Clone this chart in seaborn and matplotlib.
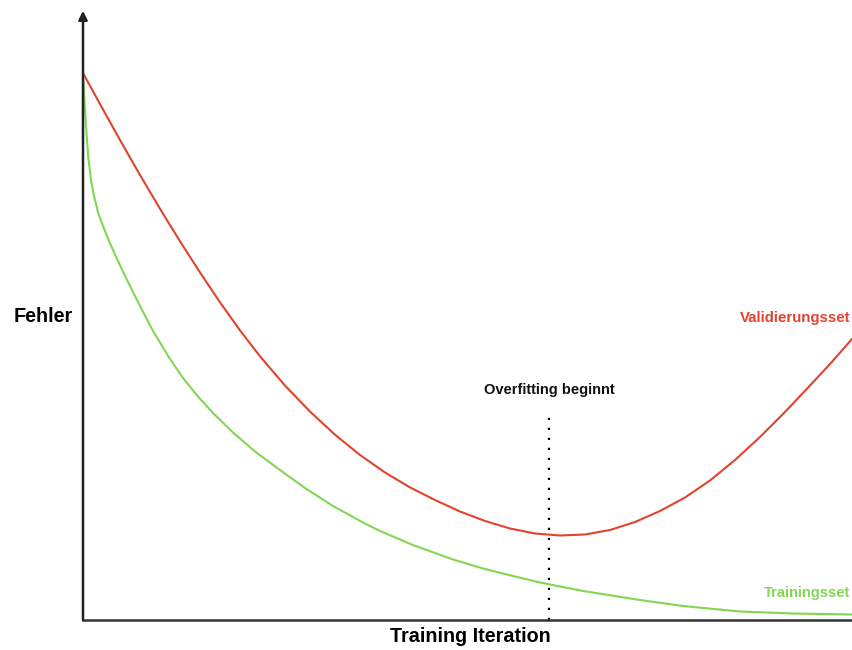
import numpy as np
import pandas as pd
import matplotlib
matplotlib.use('Agg')
import matplotlib.pyplot as plt
import seaborn as sns

sns.set_style('white')
plt.rcParams['font.family'] = ['Liberation Sans', 'DejaVu Sans']

# Kurven (x = Training Iteration, y = Fehler, beliebige Einheiten)
val_x = [0, 17, 37, 57, 77, 97, 117, 137, 157, 177, 202, 227, 252, 277, 302, 327, 352,
         377, 402, 427, 452, 477, 502, 527, 552, 577, 602, 627, 652, 677, 702, 727, 747, 769]
val_y = [547, 515.9, 480, 445, 411.2, 378.7, 347.6, 317.7, 289.6, 263.7, 234.4, 208.4,
         185.3, 165, 147.5, 132.6, 120, 108.5, 99, 91.5, 86.5, 84.5, 85.5, 90, 98, 109,
         122.5, 139.5, 160, 183, 208, 234.5, 256, 281]

train_x = [0, 1, 2, 3.5, 5.3, 8, 11, 15, 20, 26, 34, 45, 57, 70, 87, 100, 115, 130, 150,
           172, 197, 222, 250, 280, 297, 330, 370, 400, 430, 457, 500, 557, 600, 657, 710, 769]
train_y = [547, 527, 510, 487, 463, 440, 424, 408, 394, 379, 361, 338, 314, 289, 261, 242,
           223.5, 207, 187.5, 168.5, 150, 132, 114, 97.5, 89, 75, 60.5, 51.5, 44, 37.5, 29,
           20, 14, 8.5, 6.5, 5.5]

overfit_x = 466
overfit_top = 210
overfit_label_y = 230

red = '#E2432E'
green = '#82D752'

dfVal = pd.DataFrame({'x': val_x, 'y': val_y})
dfTrain = pd.DataFrame({'x': train_x, 'y': train_y})

fig = plt.figure(figsize=(8.52, 6.5), dpi=100)
ax = fig.add_axes([83 / 852, 30 / 650, 769 / 852, 605 / 650])

sns.lineplot(data=dfVal, x='x', y='y', color=red, linewidth=1.5, ax=ax)
sns.lineplot(data=dfTrain, x='x', y='y', color=green, linewidth=1.5, ax=ax)

# Overfitting Linie
ax.plot([overfit_x, overfit_x], [0, overfit_top], color='black',
        linewidth=1.6, linestyle=(0, (1, 3.5)))
ax.text(overfit_x, overfit_label_y, 'Overfitting beginnt', ha='center', va='center',
        fontsize=10.5, fontweight='bold', color='#111111')

ax.set_xlim(0, 769)
ax.set_ylim(0, 605)
ax.set_xticks([])
ax.set_yticks([])
ax.set_xlabel('')
ax.set_ylabel('')
for s in ['top', 'right', 'left']:
    ax.spines[s].set_visible(False)
ax.spines['bottom'].set_color('#333333')
ax.spines['bottom'].set_linewidth(1.8)

# y-Achse mit Pfeil
ax.annotate('', xy=(0, 1.007), xytext=(0, 0), xycoords='axes fraction',
            arrowprops=dict(arrowstyle='-|>', color='#222222', lw=1.8,
                            mutation_scale=13, shrinkA=0, shrinkB=0))

fig.text(43 / 852, 1 - 317 / 650, 'Fehler', ha='center', va='center',
         fontsize=14.2, fontweight='bold', color='black')
fig.text(470 / 852, 1 - 637 / 650, 'Training Iteration', ha='center', va='center',
         fontsize=14.2, fontweight='bold', color='black')
fig.text(850 / 852, 1 - 318 / 650, 'Validierungsset', ha='right', va='center',
         fontsize=10.8, fontweight='bold', color=red)
fig.text(850 / 852, 1 - 593 / 650, 'Trainingsset', ha='right', va='center',
         fontsize=10.5, fontweight='bold', color=green)

fig.savefig('out.png', dpi=100)
